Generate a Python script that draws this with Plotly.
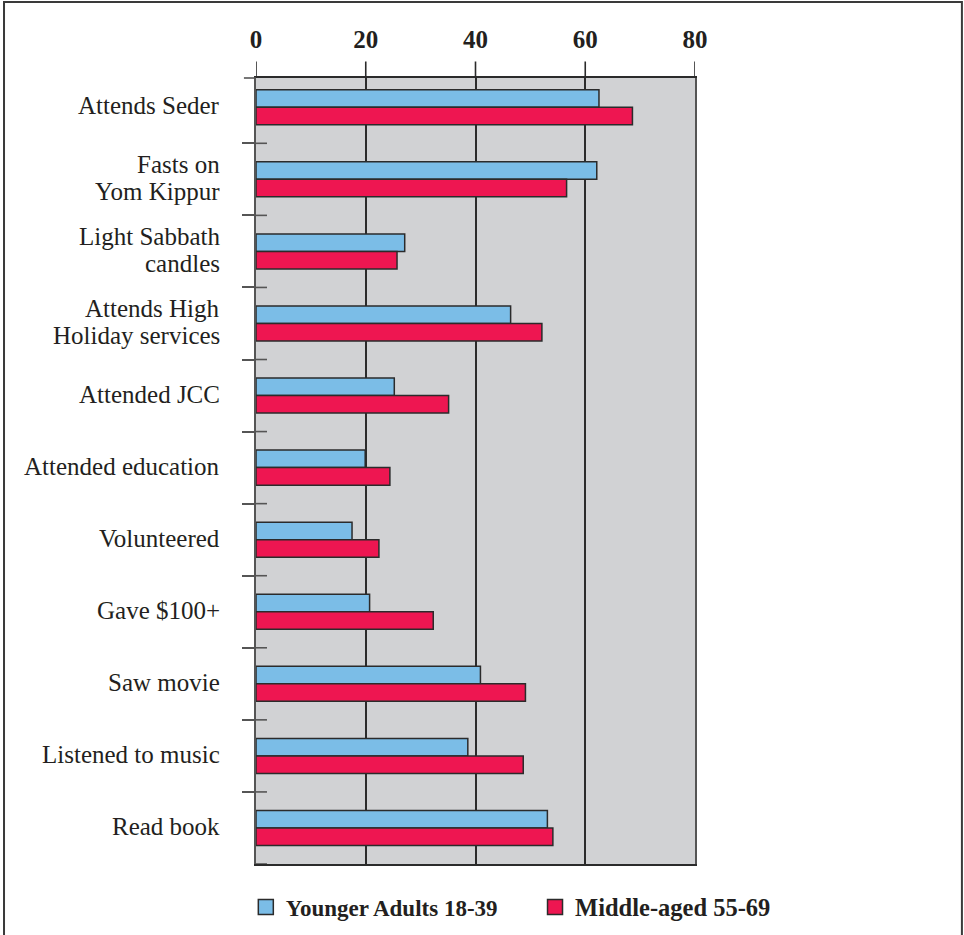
import plotly.graph_objects as go

# Share of each age group taking part in each activity (%)
activities = [
    "Attends Seder",
    "Fasts on<br>Yom Kippur",
    "Light Sabbath<br>candles",
    "Attends High<br>Holiday services",
    "Attended JCC",
    "Attended education",
    "Volunteered",
    "Gave $100+",
    "Saw movie",
    "Listened to music",
    "Read book",
]
younger_adults = [62.5, 62.1, 27.1, 46.4, 25.2, 19.9, 17.5, 20.7, 40.9, 38.6, 53.1]
middle_aged = [68.6, 56.6, 25.7, 52.1, 35.1, 24.4, 22.4, 32.3, 49.1, 48.7, 54.1]
x_ticks = [0, 20, 40, 60, 80]

SERIF = "Liberation Serif, Times New Roman, serif"
INK = "#2b2b2b"
TEXT = "#231f20"
BLUE = "#7bbde7"
RED = "#ee1651"

series = [
    ("Younger Adults 18-39", younger_adults, BLUE, "legend"),
    ("Middle-aged 55-69", middle_aged, RED, "legend2"),
]

fig = go.Figure()
for name, values, color, _ in series:
    fig.add_trace(go.Bar(
        y=activities, x=values, orientation="h", name=name, showlegend=False,
        marker=dict(color=color, line=dict(color=INK, width=1.5)),
    ))
# legend keys drawn as square markers
for name, _, color, legend_id in series:
    fig.add_trace(go.Scatter(
        x=[None], y=[None], mode="markers", name=name, legend=legend_id,
        marker=dict(symbol="square", size=15, color=color,
                    line=dict(color=INK, width=1.5)),
    ))

shapes = []
# vertical grid lines run a little above the plotting area
for v in x_ticks:
    shapes.append(dict(type="line", xref="x", yref="paper", x0=v, x1=v,
                       y0=1, y1=1.021, line=dict(color=INK, width=1.6)))
# tick marks on category boundaries also cut into the plot area
for i in range(len(activities)):
    shapes.append(dict(type="line", xref="x", yref="y", x0=0, x1=2,
                       y0=i + 0.5, y1=i + 0.5, line=dict(color="#555", width=1.6)))
# left tick at top edge
shapes.append(dict(type="line", xref="paper", yref="paper", x0=-0.0275, x1=0,
                   y0=1, y1=1, line=dict(color="#555", width=1.6)))
# outer frame
shapes.append(dict(type="rect", xref="paper", yref="paper",
                   x0=-0.574, x1=1.608, y0=-0.2, y1=1.0967,
                   line=dict(color="#3a3a3a", width=2), layer="below"))

# category labels, right-aligned, with tight line spacing for two-line names
annotations = []
LINE_GAP = 27
for name in activities:
    lines = name.split("<br>")
    n = len(lines)
    for k, line in enumerate(lines):
        annotations.append(dict(
            text=line, xref="paper", yref="y", x=-0.078, y=name,
            xanchor="right", yanchor="middle", showarrow=False,
            yshift=((n - 1) / 2 - k) * LINE_GAP + 1.5,
            font=dict(family=SERIF, size=25, color=TEXT),
        ))

legend_style = dict(
    orientation="h", xref="container", yref="container",
    xanchor="left", y=0.03, yanchor="middle",
    bgcolor="rgba(0,0,0,0)", itemwidth=30, itemsizing="trace",
)

fig.update_layout(
    width=964, height=935,
    margin=dict(l=256, r=269, t=78, b=71, autoexpand=False),
    paper_bgcolor="white",
    plot_bgcolor="#d1d2d4",
    barmode="group",
    bargap=0.514,
    bargroupgap=0,
    font=dict(family=SERIF, color=TEXT),
    shapes=shapes,
    annotations=annotations,
    showlegend=True,
    legend=dict(x=0.255, font=dict(family=SERIF, size=23, color=TEXT, weight="bold"),
                **legend_style),
    legend2=dict(x=0.555, font=dict(family=SERIF, size=24.5, color=TEXT, weight="bold"),
                 **legend_style),
)
fig.update_xaxes(
    side="top", range=[0, 80], tickvals=x_ticks,
    showgrid=True, gridcolor=INK, gridwidth=1.6,
    zeroline=False, showline=True, linecolor=INK, linewidth=1.6, mirror=True,
    ticks="", ticklabelstandoff=18,
    tickfont=dict(family=SERIF, size=25, color=TEXT, weight="bold"),
    fixedrange=True, automargin=False,
)
fig.update_yaxes(
    type="category", range=[10.5, -0.406],
    showgrid=False, zeroline=False,
    showline=True, linecolor="#555", linewidth=2, mirror=True,
    ticks="outside", tickson="boundaries", ticklen=12, tickcolor="#555", tickwidth=1.6,
    showticklabels=False,
    fixedrange=True, automargin=False,
)

fig.write_html("out.html")
